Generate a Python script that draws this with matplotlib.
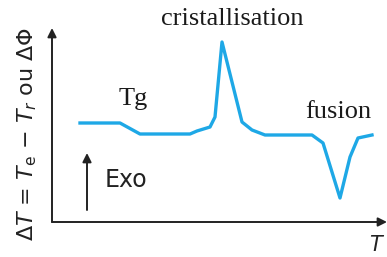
import matplotlib.pyplot as plt

# schematic DSC/DTA curve: temperature (arbitrary) vs signal (arbitrary)
temp = [80, 120, 140, 190, 197, 210, 215, 222, 242, 252, 265, 312, 323, 340, 350, 358, 372]
signal = [100, 100, 89, 89, 92, 96, 106, 181, 101, 93, 88, 88, 80, 25, 66, 85, 88]

fig = plt.figure(figsize=(3.87, 2.57), dpi=100)
ax = fig.add_axes([0, 0, 1, 1])
ax.set_xlim(0, 387)
ax.set_ylim(-34, 223)
ax.axis('off')

ax.plot(temp, signal, color='#1ea8e6', linewidth=2.4, solid_joinstyle='round')

# axes with arrows
arrow = dict(arrowstyle='-|>', color='#222222', lw=1.4, mutation_scale=13, shrinkA=0, shrinkB=0)
ax.annotate('', xy=(387, 1), xytext=(52, 1), arrowprops=arrow)
ax.annotate('', xy=(52, 195), xytext=(52, 1), arrowprops=arrow)
ax.annotate('', xy=(87, 70), xytext=(87, 13), arrowprops=arrow)

ax.text(105, 43, 'Exo', fontsize=17, ha='left', va='center', color='#222222')
ax.text(27, 89, r'$\Delta T$ = $T_\mathrm{e}$ $-$ $T_r$ ou $\Delta\Phi$', rotation=90,
        fontsize=16, ha='center', va='center', color='#222222')
ax.text(377, -22, r'$T$', fontsize=15, ha='center', va='center', color='#222222')

serif = dict(family='Liberation Serif', fontsize=19, color='#1a1a1a', ha='center', va='center')
ax.text(232, 204, 'cristallisation', **serif)
ax.text(133, 124, 'Tg', **serif)
ax.text(338, 111, 'fusion', **serif)

fig.savefig('out.png', dpi=100)
